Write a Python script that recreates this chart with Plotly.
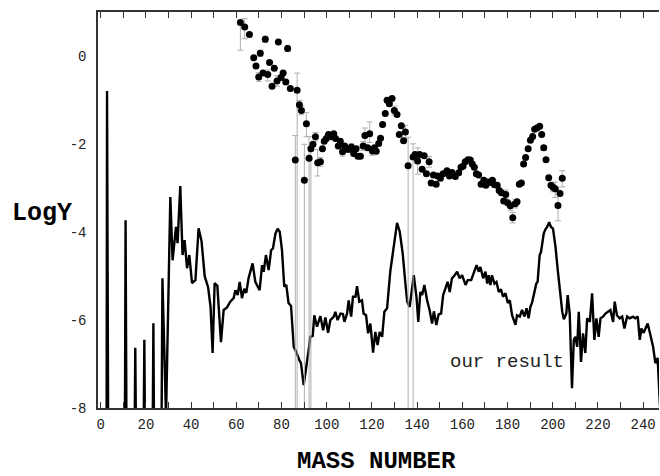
import plotly.graph_objects as go

# Calculated yield curve ("our result"): mass number vs log10 of yield
calc_mass = [
    2.6, 2.8, 3.3, 10.7, 11.0, 11.4, 15.0, 15.3, 15.6, 19.0, 19.3, 19.6,
    23.0, 23.3, 23.6, 26.9, 27.3, 28.9, 30.8, 31.8, 33.3, 34.0, 35.2, 36.2,
    37.1, 38.2, 39.2, 40.4, 41.9, 43.3, 44.6, 46.0, 47.5, 48.6, 49.5, 50.4,
    51.6, 53.2, 54.4, 55.9, 57.3, 58.8, 59.6, 60.6, 61.5, 62.5, 63.5, 64.4,
    65.4, 67.2, 68.4, 70.3, 71.4, 72.1, 73.1, 74.3, 75.4, 76.2, 77.3, 78.3,
    79.2, 80.2, 81.2, 82.1, 83.1, 84.2, 85.4, 86.5, 87.7, 88.6, 89.8, 91.0,
    92.0, 92.7, 93.8, 94.5, 95.7, 97.2, 98.4, 99.4, 100.6, 101.6, 103.1, 103.8,
    104.8, 106.1, 107.2, 107.8, 109.0, 109.7, 110.8, 111.6, 112.7, 113.4, 114.4, 115.6,
    116.3, 117.4, 118.3, 119.3, 120.5, 121.5, 122.5, 123.4, 124.5, 125.5, 126.7, 128.1,
    129.3, 131.1, 132.3, 133.6, 134.8, 135.6, 136.7, 138.5, 139.7, 140.5, 141.4, 142.2,
    143.2, 144.4, 145.5, 146.6, 147.4, 148.5, 149.5, 150.6, 151.5, 152.7, 153.5, 154.4,
    155.4, 156.6, 157.7, 158.8, 159.9, 161.4, 162.4, 163.9, 165.1, 166.3, 167.3, 168.0,
    169.2, 170.2, 171.0, 171.6, 172.4, 173.1, 174.2, 175.1, 176.1, 177.1, 178.0, 179.1,
    180.1, 181.0, 182.0, 183.5, 184.2, 185.4, 186.4, 187.5, 188.4, 189.3, 190.1, 190.8,
    191.6, 192.7, 193.3, 194.2, 194.8, 196.0, 196.7, 197.5, 198.4, 199.2, 200.1, 201.2,
    202.2, 203.1, 204.2, 204.9, 206.0, 206.6, 207.5, 208.5, 209.3, 210.0, 210.8, 211.5,
    212.5, 213.4, 214.4, 215.2, 216.4, 217.4, 218.4, 219.3, 220.3, 221.1, 222.3, 223.3,
    224.3, 225.5, 226.7, 227.4, 228.4, 229.6, 230.7, 231.7, 232.9, 234.0, 235.5, 236.5,
    237.6, 238.5, 239.2, 240.2, 241.0, 242.0, 243.2, 244.4, 245.4, 246.4, 247.3, 248.0,
]
calc_logy = [
    -8.6, -0.79, -8.6, -8.6, -3.73, -8.6, -8.6, -6.63, -8.6, -8.6, -6.45, -8.6,
    -8.6, -6.07, -8.6, -8.6, -5.05, -8.2, -3.2, -4.64, -3.88, -4.25, -2.95, -4.52,
    -4.18, -4.82, -4.52, -5.16, -5.09, -3.91, -4.2, -5.0, -5.25, -5.7, -6.75, -5.16,
    -5.22, -6.5, -5.77, -5.71, -5.58, -5.5, -5.32, -5.43, -5.13, -5.5, -5.29, -5.38,
    -5.05, -4.71, -5.13, -5.32, -4.75, -4.9, -4.52, -4.86, -4.41, -4.37, -4.03, -3.92,
    -3.99, -4.41, -5.24, -5.2, -5.61, -5.68, -6.61, -6.72, -6.89, -6.98, -7.48, -7.09,
    -6.68, -6.38, -6.36, -5.89, -6.15, -5.91, -6.23, -5.94, -6.29, -6.0, -5.92, -5.81,
    -6.0, -5.85, -5.86, -6.04, -5.85, -5.55, -5.92, -5.47, -5.47, -5.23, -5.58, -5.55,
    -5.85, -5.89, -6.30, -6.08, -6.74, -6.27, -6.57, -6.27, -6.38, -5.81, -5.73, -4.9,
    -4.41, -3.79, -3.99, -4.48, -5.17, -5.58, -5.7, -4.98, -5.47, -6.04, -5.36, -5.43,
    -5.2, -5.55, -5.77, -6.08, -5.8, -6.11, -5.87, -5.85, -5.43, -5.22, -5.13, -5.36,
    -5.05, -4.98, -4.9, -5.05, -4.98, -5.2, -5.09, -5.09, -4.9, -4.75, -4.9, -4.79,
    -5.05, -4.9, -5.17, -4.98, -5.2, -4.98, -5.17, -5.13, -5.36, -5.30, -5.47, -5.39,
    -5.61, -5.55, -5.89, -6.11, -5.89, -5.92, -5.77, -5.92, -5.73, -5.96, -5.70, -5.61,
    -5.43, -5.17, -5.13, -4.52, -4.45, -4.03, -3.94, -3.88, -3.77, -3.88, -3.92, -4.33,
    -4.86, -5.36, -5.81, -5.98, -5.85, -5.43, -5.85, -7.55, -6.45, -6.38, -6.61, -5.81,
    -6.95, -6.30, -6.75, -5.96, -6.04, -5.39, -6.45, -5.96, -6.38, -5.96, -5.92, -5.85,
    -5.81, -5.77, -6.04, -5.58, -5.89, -5.96, -5.92, -6.19, -5.92, -5.96, -5.92, -5.96,
    -5.92, -6.45, -6.19, -6.29, -6.19, -6.08, -6.34, -6.61, -6.98, -6.86, -7.82, -8.5,
]

# Measured yields with (asymmetric) uncertainties in log10 units
exp_mass = [
    61.8, 63.7, 65.8, 67.7, 68.7, 69.9, 70.6, 71.8, 72.8, 73.9, 74.7, 75.8,
    76.8, 78.0, 78.6, 79.8, 80.7, 81.9, 82.7, 83.9, 86.1, 86.9, 87.9, 88.8,
    90.1, 91.0, 92.2, 93.0, 93.9, 95.0, 96.0, 97.2, 98.1, 98.9, 99.8, 100.8,
    101.9, 103.1, 103.9, 105.1, 106.0, 107.0, 107.9, 109.0, 110.0, 110.9, 111.9, 113.0,
    113.8, 114.9, 116.1, 116.9, 118.1, 119.0, 120.2, 121.1, 121.9, 123.0, 123.8, 124.7,
    125.9, 126.7, 127.7, 128.9, 129.9, 131.1, 132.1, 133.0, 134.0, 134.8, 136.0, 138.2,
    139.1, 140.2, 141.1, 142.2, 143.1, 144.1, 145.3, 146.2, 147.2, 148.4, 149.1, 150.3,
    151.5, 153.2, 154.3, 155.4, 156.9, 158.4, 159.4, 160.3, 161.3, 162.5, 163.5, 164.4,
    165.3, 166.2, 167.2, 168.3, 169.5, 170.4, 171.2, 172.1, 173.3, 174.2, 175.4, 176.3,
    177.3, 178.3, 179.2, 180.0, 181.2, 182.3, 183.4, 184.2, 185.2, 186.1, 187.1, 188.0,
    189.1, 190.1, 191.1, 192.0, 193.0, 194.2, 195.1, 196.0, 197.0, 198.2, 199.2, 200.1,
    201.1, 202.3, 203.2, 204.2,
]
exp_logy = [
    0.77, 0.67, 0.50, -0.03, -0.22, -0.47, 0.07, -0.38, 0.39, -0.41, -0.14, -0.68,
    -0.27, -0.56, 0.33, -0.48, -0.38, -0.58, 0.18, -0.73, -2.36, -0.77, -1.10, -1.23,
    -2.82, -1.53, -2.32, -2.10, -2.0, -1.83, -2.42, -2.40, -2.10, -1.93, -1.87, -1.78,
    -1.83, -1.76, -1.87, -2.04, -1.93, -2.17, -2.04, -2.11, -2.11, -2.06, -2.21, -2.10,
    -2.27, -2.27, -2.04, -1.80, -2.08, -1.76, -2.15, -2.08, -2.16, -1.98, -1.86, -1.55,
    -1.30, -1.0, -1.08, -0.96, -1.23, -1.32, -1.78, -1.58, -1.92, -1.72, -2.49, -2.29,
    -2.23, -2.38, -2.23, -2.57, -2.26, -2.67, -2.40, -2.88, -2.70, -2.91, -2.72, -2.77,
    -2.67, -2.60, -2.72, -2.64, -2.73, -2.65, -2.52, -2.50, -2.40, -2.35, -2.36, -2.45,
    -2.52, -2.67, -2.70, -2.91, -2.82, -2.93, -2.86, -2.87, -2.82, -2.92, -2.93, -3.05,
    -3.10, -3.29, -3.14, -3.33, -3.40, -3.67, -3.35, -3.31, -2.91, -2.88, -2.45, -2.30,
    -2.10, -1.91, -1.82, -1.66, -1.63, -1.59, -1.78, -2.08, -2.35, -2.76, -2.93, -2.98,
    -3.01, -3.39, -3.12, -2.77,
]
exp_err_up = [
    0.05, 0.19, 0, 0, 0, 0.1, 0.07, 0, 0.07, 0.1, 0, 0,
    0, 0.12, 0, 0, 0, 0, 0.07, 0, 0.56, 0.39, 0.1, 0.1,
    0.82, 0.25, 0.5, 0, 0, 0.1, 0.3, 0.1, 0, 0, 0, 0,
    0, 0, 0, 0, 0, 0.1, 0, 0.07, 0, 0.07, 0, 0,
    0, 0, 0.1, 0.17, 0, 0.27, 0.1, 0, 0, 0, 0, 0,
    0, 0, 0, 0, 0.1, 0, 0, 0, 0, 0.15, 0.65, 0.3,
    0, 0.3, 0, 0, 0, 0, 0.12, 0, 0, 0, 0, 0,
    0, 0, 0, 0, 0, 0, 0, 0, 0, 0, 0, 0,
    0, 0, 0, 0, 0, 0, 0, 0, 0, 0, 0, 0.05,
    0, 0, 0.1, 0, 0.1, 0.12, 0.1, 0, 0, 0, 0, 0,
    0, 0, 0, 0, 0, 0, 0, 0.05, 0, 0, 0, 0.1,
    0.15, 0.35, 0, 0.17,
]
exp_err_down = [
    0.63, 0.27, 0, 0, 0, 0.1, 0.07, 0, 0.07, 0.15, 0, 0,
    0, 0.12, 0, 0, 0, 0, 0.07, 0, 10, 10, 0.1, 0.1,
    10, 0.3, 10, 10, 0, 0.1, 0.3, 0.1, 0, 0, 0, 0,
    0, 0, 0, 0, 0, 0.1, 0, 0.07, 0, 0.07, 0, 0,
    0, 0, 0.1, 0.2, 0, 0.2, 0.1, 0, 0, 0, 0, 0,
    0, 0, 0, 0, 0.1, 0, 0, 0, 0, 0.15, 10, 10,
    0, 0.3, 0, 0, 0, 0, 0.12, 0, 0, 0, 0, 0,
    0, 0, 0, 0, 0, 0, 0, 0, 0, 0, 0, 0,
    0, 0, 0, 0, 0, 0, 0, 0, 0, 0, 0, 0.05,
    0, 0, 0.1, 0, 0.1, 0.12, 0.1, 0, 0, 0, 0, 0,
    0, 0, 0, 0, 0, 0, 0, 0.05, 0, 0, 0, 0.1,
    0.2, 0.35, 0, 0.2,
]

x_tick_vals = [0, 20, 40, 60, 80, 100, 120, 140, 160, 180, 200, 220, 240]
y_tick_vals = [0, -2, -4, -6, -8]
y_tick_text = ["0", "-2", "-4", "-6", "-8"]

MONO = "Liberation Mono, Courier New, monospace"

fig = go.Figure()

fig.add_trace(go.Scatter(
    x=calc_mass, y=calc_logy, mode="lines",
    line=dict(color="black", width=2.4),
    showlegend=False, hoverinfo="skip",
))

fig.add_trace(go.Scatter(
    x=exp_mass, y=exp_logy, mode="markers",
    marker=dict(color="black", size=7, symbol="circle"),
    error_y=dict(type="data", symmetric=False,
                 array=exp_err_up, arrayminus=exp_err_down,
                 color="#b0b0b0", thickness=1, width=3),
    showlegend=False,
))

fig.update_layout(
    width=660, height=476,
    margin=dict(l=98, r=1, t=12, b=68),
    paper_bgcolor="white", plot_bgcolor="white",
    font=dict(family=MONO, size=14, color="#222"),
    xaxis=dict(
        range=[-1.2, 247.0], tickvals=x_tick_vals,
        ticks="inside", ticklen=6, tickcolor="#333",
        minor=dict(dtick=10, tick0=0, ticks="inside", ticklen=6, tickcolor="#333"),
        showline=True, linecolor="#333", linewidth=1.5, mirror="ticks",
        showgrid=False, zeroline=False, ticklabelstandoff=2,
    ),
    yaxis=dict(
        range=[-8, 1.01], tickvals=y_tick_vals, ticktext=y_tick_text,
        ticks="", showline=True, linecolor="#333", linewidth=1.5,
        showgrid=False, zeroline=False, ticklabelstandoff=7,
    ),
    annotations=[
        dict(text="<b>LogY</b>", xref="paper", yref="paper", x=-0.0998, y=0.492,
             showarrow=False, font=dict(family=MONO, size=25, color="black"),
             xanchor="center", yanchor="middle"),
        dict(text="<b>MASS NUMBER</b>", xref="paper", yref="paper", x=0.497, y=-0.134,
             showarrow=False, font=dict(family=MONO, size=24, color="black"),
             xanchor="center", yanchor="middle"),
        dict(text="our result", xref="x", yref="y", x=179.6, y=-6.95,
             showarrow=False, font=dict(family=MONO, size=19, color="#222"),
             xanchor="center", yanchor="middle"),
    ],
)

fig.write_html("out.html")
